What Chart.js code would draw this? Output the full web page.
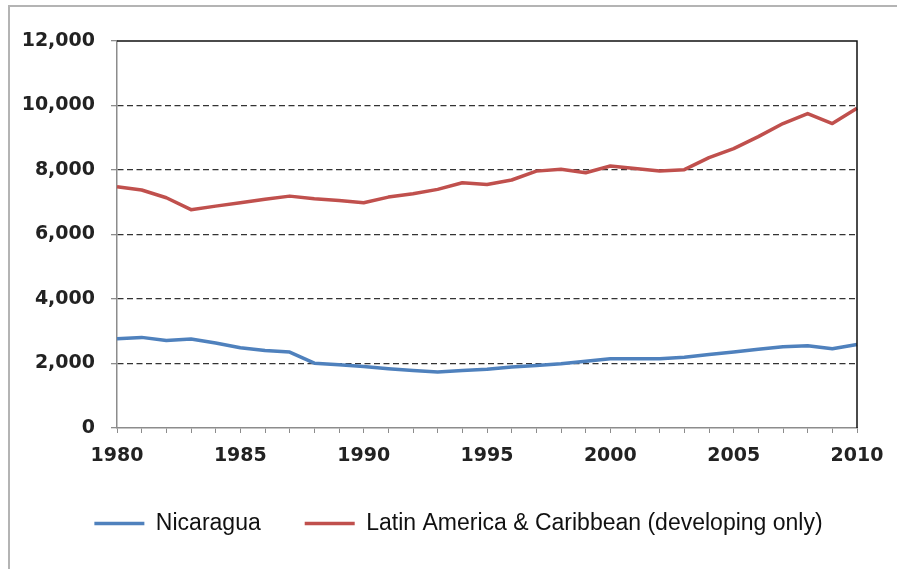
<!DOCTYPE html>
<html>
<head>
<meta charset="utf-8">
<script src="https://cdn.jsdelivr.net/npm/chart.js@4"></script>
<style>
  body { margin: 0; background: #fff; }
  #wrap { position: relative; width: 897px; height: 569px; overflow: hidden; }
  #frame { position: absolute; left: 8px; top: 5px; width: 900px; height: 562px; border: 2px solid #b4b4b4; }
  canvas { position: absolute; left: 0; top: 0; }
</style>
</head>
<body>
<div id="wrap">
  <div id="frame"></div>
  <canvas id="chart" width="897" height="569"></canvas>
</div>
<script>
const years = [1980, 1981, 1982, 1983, 1984, 1985, 1986, 1987, 1988, 1989, 1990,
  1991, 1992, 1993, 1994, 1995, 1996, 1997, 1998, 1999, 2000,
  2001, 2002, 2003, 2004, 2005, 2006, 2007, 2008, 2009, 2010];

const nicaragua = [2770, 2810, 2715, 2760, 2635, 2490, 2405, 2355, 2010, 1960, 1905,
  1835, 1780, 1740, 1780, 1820, 1895, 1940, 1990, 2070, 2145,
  2145, 2150, 2195, 2280, 2360, 2445, 2520, 2550, 2455, 2590];

const latinAmerica = [7480, 7380, 7140, 6770, 6880, 6985, 7095, 7190, 7110, 7055, 6985,
  7160, 7265, 7400, 7605, 7550, 7690, 7965, 8020, 7915, 8125,
  8050, 7970, 8010, 8385, 8665, 9035, 9440, 9750, 9440, 9915];

const xTickYears = [1980, 1985, 1990, 1995, 2000, 2005, 2010];
const yTickValues = [0, 2000, 4000, 6000, 8000, 10000, 12000];

const seriesNames = ['Nicaragua', 'Latin America & Caribbean (developing only)'];

const axisFont = { family: 'DejaVu Sans', size: 19, weight: 'bold' };

// black frame on top and right of the plot area
const plotFrame = {
  id: 'plotFrame',
  afterDatasetsDraw(chart) {
    const { ctx, chartArea: a } = chart;
    ctx.save();
    ctx.strokeStyle = '#111';
    ctx.lineWidth = 1.5;
    ctx.beginPath();
    ctx.moveTo(a.left, a.top);
    ctx.lineTo(a.right, a.top);
    ctx.lineTo(a.right, a.bottom);
    ctx.stroke();
    ctx.restore();
  }
};

new Chart(document.getElementById('chart'), {
  type: 'line',
  data: {
    labels: years,
    datasets: [
      {
        label: seriesNames[0],
        data: nicaragua,
        borderColor: '#4f81bd',
        backgroundColor: '#4f81bd',
        borderWidth: 3.5,
        pointRadius: 0,
        tension: 0,
        borderJoinStyle: 'round'
      },
      {
        label: seriesNames[1],
        data: latinAmerica,
        borderColor: '#c0504d',
        backgroundColor: '#c0504d',
        borderWidth: 3.5,
        pointRadius: 0,
        tension: 0,
        borderJoinStyle: 'round'
      }
    ]
  },
  options: {
    responsive: false,
    animation: false,
    layout: { padding: { left: 20, right: 0, top: 41, bottom: 24 } },
    plugins: {
      tooltip: { enabled: false },
      legend: {
        position: 'bottom',
        labels: {
          usePointStyle: true,
          pointStyle: 'line',
          pointStyleWidth: 50,
          padding: 44,
          color: '#111',
          font: { family: 'Liberation Sans', size: 23 }
        }
      }
    },
    scales: {
      x: {
        type: 'category',
        offset: false,
        afterFit(scale) {
          scale.height = 40;
          scale.paddingRight = 40;
        },
        grid: {
          drawOnChartArea: false,
          drawTicks: true,
          tickLength: 5,
          tickColor: '#8c8c8c'
        },
        border: { display: true, color: '#8c8c8c', width: 1.5 },
        ticks: {
          autoSkip: false,
          maxRotation: 0,
          padding: 12,
          color: '#222',
          font: axisFont,
          callback(value) {
            const yr = years[value];
            return xTickYears.includes(yr) ? String(yr) : '';
          }
        }
      },
      y: {
        min: yTickValues[0],
        max: yTickValues[yTickValues.length - 1],
        afterFit(scale) { scale.width = 97; },
        afterBuildTicks(scale) { scale.ticks = yTickValues.map(v => ({ value: v })); },
        grid: {
          color: ctx => (ctx.tick && (ctx.tick.value === 0 || ctx.tick.value === 12000)) ? 'rgba(0,0,0,0)' : '#333',
          lineWidth: 1.3,
          tickLength: 6,
          tickColor: '#8c8c8c'
        },
        border: { display: true, color: '#8c8c8c', width: 1.5, dash: [6, 3.5] },
        ticks: {
          padding: 16,
          color: '#222',
          font: axisFont,
          callback: v => v.toLocaleString('en-US')
        }
      }
    }
  },
  plugins: [plotFrame]
});
</script>
</body>
</html>
